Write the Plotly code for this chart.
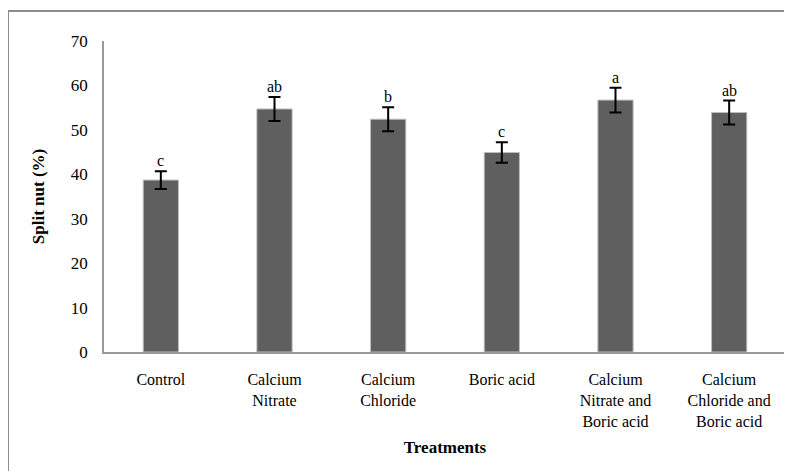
import plotly.graph_objects as go

categories = ["Control", "Calcium<br>Nitrate", "Calcium<br>Chloride", "Boric acid",
              "Calcium<br>Nitrate and<br>Boric acid", "Calcium<br>Chloride and<br>Boric acid"]
values = [38.7, 54.7, 52.4, 44.9, 56.7, 53.9]
errors = [2.0, 2.7, 2.7, 2.3, 2.8, 2.7]
letters = ["c", "ab", "b", "c", "a", "ab"]
y_ticks = [0, 10, 20, 30, 40, 50, 60, 70]

font_family = "Liberation Serif"

fig = go.Figure()
fig.add_trace(go.Bar(
    x=categories, y=values,
    marker=dict(color="#5f5f5f", line=dict(color="#bdbdbd", width=1)),
    error_y=dict(type="data", array=errors, visible=True, color="black", thickness=2, width=6),
    hoverinfo="skip",
))

for c, v, e, l in zip(categories, values, errors, letters):
    fig.add_annotation(x=c, y=v + e, text=l, showarrow=False, yanchor="bottom", yshift=0,
                       font=dict(family=font_family, size=16, color="black"))

fig.add_shape(type="rect", xref="paper", yref="paper", x0=-0.1408, x1=1.02, y0=-0.41, y1=1.0965,
              line=dict(color="#8c8c8c", width=2), fillcolor="rgba(0,0,0,0)")

fig.update_layout(
    width=784, height=463,
    margin=dict(l=96, r=6, t=33, b=119),
    paper_bgcolor="white", plot_bgcolor="white",
    bargap=0.69,
    showlegend=False,
    font=dict(family=font_family, size=16, color="black"),
    xaxis=dict(showline=True, linecolor="#999999", linewidth=1.5, ticks="outside", ticklen=12,
               tickcolor="rgba(0,0,0,0)", tickangle=0,
               title=dict(text="<b>Treatments</b>", font=dict(family=font_family, size=17), standoff=13),
               tickfont=dict(family=font_family, size=16)),
    yaxis=dict(range=[0, 70], tickvals=y_ticks, showline=True, linecolor="#999999", linewidth=1.5,
               showgrid=False, zeroline=False, ticks="outside", ticklen=11, tickcolor="rgba(0,0,0,0)",
               title=dict(text="<b>Split nut (%)</b>", font=dict(family=font_family, size=17), standoff=22),
               tickfont=dict(family=font_family, size=17)),
)

fig.write_html("out.html")
